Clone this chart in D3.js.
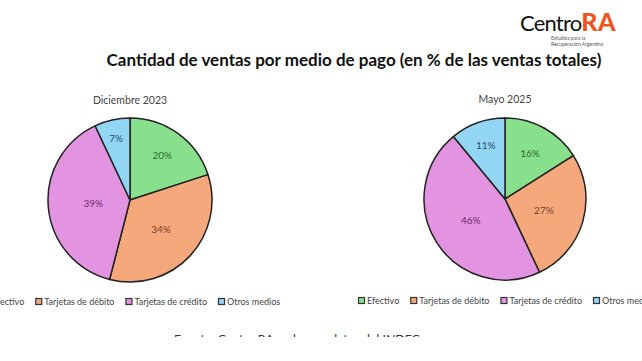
<!DOCTYPE html>
<html><head><meta charset="utf-8">
<script src="https://cdn.jsdelivr.net/npm/d3@7"></script>
<style>body{margin:0;background:#fff;overflow:hidden}svg{display:block}</style>
</head><body>
<svg id="c" width="642" height="361"></svg>
<script>
const categories = ["Efectivo", "Tarjetas de débito", "Tarjetas de crédito", "Otros medios"];
const dic2023 = [20, 34, 39, 7];
const may2025 = [16, 27, 46, 11];
const pieTitles = ["Diciembre 2023", "Mayo 2025"];
const colors = ["#88e08c", "#f4a87b", "#e294e0", "#93d5f4"];
const labelColors = ["#2f6b33", "#7a3f22", "#6a2a68", "#234e6e"];
const title = "Cantidad de ventas por medio de pago (en % de las ventas totales)";
const source = "Fuente: Centro RA en base a datos del INDEC";

const svg = d3.select("#c");
svg.append("rect").attr("width", 642).attr("height", 361).attr("fill", "#fff");

// logo
const logo = svg.append("g");
const lt = logo.append("text").attr("x", 520).attr("y", 31).attr("font-family", "Lato, sans-serif").attr("font-size", 22).attr("fill", "#111");
lt.append("tspan").attr("letter-spacing", -0.8).text("Centro");
lt.append("tspan").attr("font-weight", 900).attr("font-size", 25).attr("fill", "#ea5520").attr("letter-spacing", 0.5).text("RA");
logo.append("text").attr("x", 551).attr("y", 40).attr("font-family", "Lato, sans-serif").attr("font-size", 5).attr("fill", "#555").text("Estudios para la");
logo.append("text").attr("x", 551).attr("y", 46).attr("font-family", "Lato, sans-serif").attr("font-size", 5).attr("fill", "#555").text("Recuperación Argentina");

svg.append("text").attr("x", 354).attr("y", 66).attr("text-anchor", "middle")
  .attr("font-family", "Lato, sans-serif").attr("font-weight", 700).attr("font-size", 17).attr("fill", "#111").text(title);

const pies = [
  {data: dic2023, cx: 130, cy: 200, r: 82, title: pieTitles[0], ty: 104, legendX: -17, legendY: 302, lr: [0.67, 0.52, 0.45, 0.77]},
  {data: may2025, cx: 505, cy: 199, r: 81, title: pieTitles[1], ty: 103, legendX: 358, legendY: 301, lr: [0.64, 0.5, 0.5, 0.7]}
];
const pie = d3.pie().sort(null).value(d => d);

pies.forEach(p => {
  const g = svg.append("g").attr("transform", `translate(${p.cx},${p.cy})`);
  const arc = d3.arc().innerRadius(0).outerRadius(p.r);
  const arcs = pie(p.data);
  g.selectAll("path").data(arcs).join("path").attr("d", arc)
    .attr("fill", (d, i) => colors[i]).attr("stroke", "#222").attr("stroke-width", 1.5).attr("stroke-linejoin", "round");
  g.selectAll("text.lbl").data(arcs).join("text").attr("class", "lbl")
    .attr("transform", (d, i) => {
      const rr = p.r * p.lr[i];
      return `translate(${d3.arc().innerRadius(rr).outerRadius(rr).centroid(d)})`;
    })
    .attr("text-anchor", "middle").attr("dy", "0.35em")
    .attr("font-family", "Lato, sans-serif").attr("font-size", 10).attr("fill", (d, i) => labelColors[i])
    .text(d => d.data + "%");
  svg.append("text").attr("x", p.cx).attr("y", p.ty).attr("text-anchor", "middle")
    .attr("font-family", "Lato, sans-serif").attr("font-size", 10.5).attr("fill", "#444").text(p.title);
  // legend
  let x = p.legendX;
  categories.forEach((c, i) => {
    svg.append("rect").attr("x", x + 0.5).attr("y", p.legendY - 3.5).attr("width", 6).attr("height", 6)
      .attr("fill", colors[i]).attr("stroke", "#333").attr("stroke-width", 1.2);
    const t = svg.append("text").attr("x", x + 9).attr("y", p.legendY + 3)
      .attr("font-family", "Lato, sans-serif").attr("font-size", 9).attr("fill", "#444").text(c);
    x += 9 + t.node().getComputedTextLength() + 11;
  });
});

svg.append("clipPath").attr("id", "clipSrc").append("rect").attr("x", 0).attr("y", 0).attr("width", 642).attr("height", 337);
svg.append("text").attr("x", 174).attr("y", 343).attr("clip-path", "url(#clipSrc)")
  .attr("font-family", "Lato, sans-serif").attr("font-size", 12.3).attr("fill", "#333").text(source);
</script>
</body></html>
